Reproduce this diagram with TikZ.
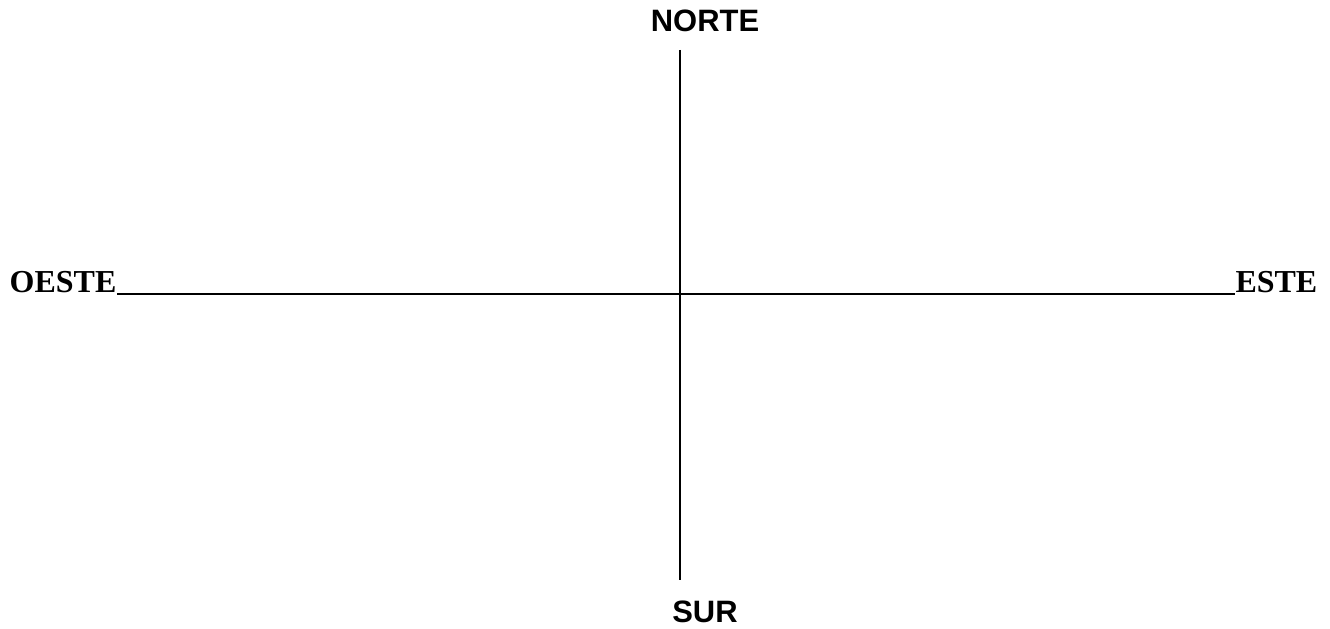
\documentclass[tikz,border=0pt]{standalone}
\usepackage{fontspec}
\setmainfont{Liberation Serif}
\setsansfont{Liberation Sans}

\tikzset{
  rumbo/.style={inner sep=0pt,font=\fontsize{9.1}{11}\selectfont\bfseries},
  polo/.style={inner sep=0pt,font=\fontsize{8.8}{11}\selectfont\sffamily\bfseries},
  eje/.style={line width=0.55pt}
}

\begin{document}
\begin{tikzpicture}[x=0.1mm,y=-0.1mm]
\useasboundingbox (0,0) rectangle (1330,629);
% puntos cardinales
\node[rumbo,anchor=base west] (oeste) at (9,292) {OESTE};
\node[rumbo,anchor=base east] (este) at (1318,292) {ESTE};
\node[polo,anchor=base] (norte) at (705,32) {NORTE};
\node[polo,anchor=base] (sur) at (705,622) {SUR};
% ejes
\coordinate (arriba) at (680,50);
\coordinate (abajo) at (680,580);
\draw[eje] (arriba) -- (abajo);
\draw[eje] ([yshift=-0.2mm]oeste.base east) -- ([yshift=-0.2mm]este.base west);
\end{tikzpicture}
\end{document}
